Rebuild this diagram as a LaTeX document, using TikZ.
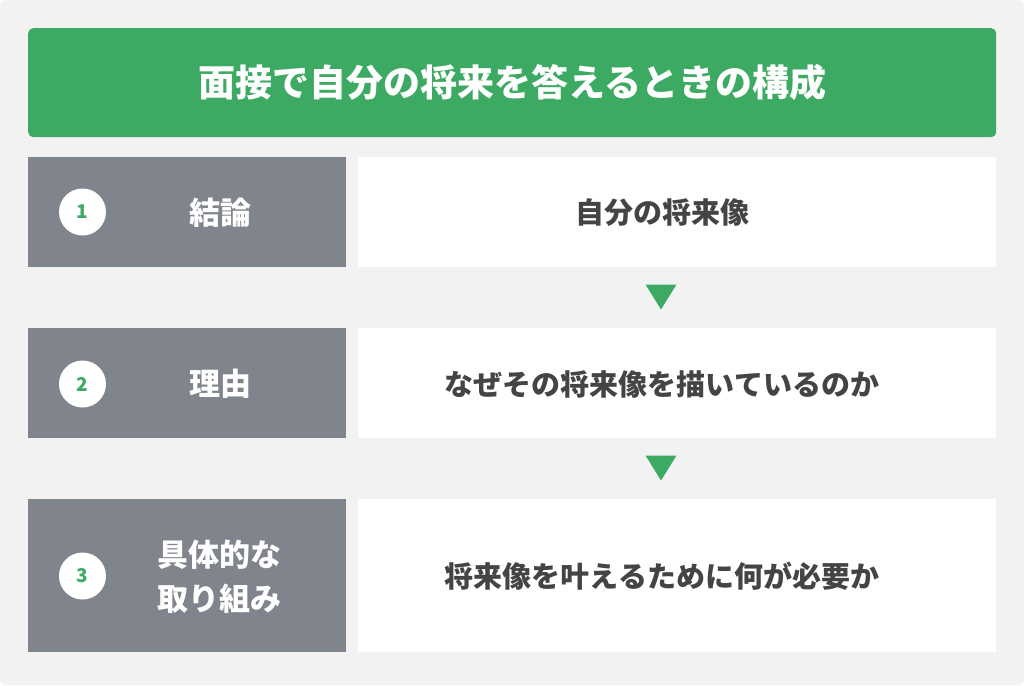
\documentclass[tikz,border=0pt]{standalone}
\usepackage{fontspec}
\newfontfamily\jp{Noto Sans CJK JP}
\definecolor{bgc}{HTML}{F2F2F2}
\definecolor{grn}{HTML}{3DAA64}
\definecolor{gry}{HTML}{80848C}
\definecolor{txt}{HTML}{444444}
\begin{document}
\begin{tikzpicture}[x=1pt,y=-1pt,
  lbox/.style={fill=gry,draw=none,minimum width=318pt,inner sep=0pt,anchor=north west},
  wbox/.style={fill=white,draw=none,minimum width=638pt,inner sep=0pt,anchor=north west},
  num/.style={circle,fill=white,minimum size=47pt,inner sep=0pt,text=grn,font=\jp\bfseries\fontsize{19}{19}\selectfont},
  ltext/.style={text=white,font=\jp\bfseries\fontsize{31}{44}\selectfont,align=center},
  wtext/.style={text=txt,font=\jp\bfseries\fontsize{29}{30}\selectfont},
  arr/.style={fill=grn,draw=none}]
\useasboundingbox (0,0) rectangle (1024,685);
\fill[white] (0,0) rectangle (1024,685);
\fill[bgc,rounded corners=6pt] (0,0) rectangle (1024,685);
\node[fill=grn,rounded corners=5pt,minimum width=968pt,minimum height=109pt,inner sep=0pt,anchor=north west,text=white,font=\jp\bfseries\fontsize{37}{37}\selectfont] (title) at (28,28) {面接で自分の将来を答えるときの構成};
% row 1
\node[lbox,minimum height=110pt] (l1) at (28,157) {};
\node[wbox,minimum height=110pt] (w1) at (358,157) {};
\node[num] (n1) at (82.5,212) {1};
\node[ltext] (t1) at (220,213) {結論};
\node[wtext] (d1) at (662,213) {自分の将来像};
% row 2
\node[lbox,minimum height=110pt] (l2) at (28,328) {};
\node[wbox,minimum height=110pt] (w2) at (358,328) {};
\node[num] (n2) at (82.5,384) {2};
\node[ltext] (t2) at (220,384) {理由};
\node[wtext] (d2) at (662,384) {なぜその将来像を描いているのか};
% row 3
\node[lbox,minimum height=153pt] (l3) at (28,499) {};
\node[wbox,minimum height=153pt] (w3) at (358,499) {};
\node[num] (n3) at (82.5,576) {3};
\node[ltext] (t3) at (219,577) {具体的な\\取り組み};
\node[wtext] (d3) at (662,576) {将来像を叶えるために何が必要か};
% arrows
\coordinate (a1) at (661,297);
\coordinate (a2) at (661,468);
\fill[arr] ([shift={(-15.5,-12.5)}]a1) -- ([shift={(15.5,-12.5)}]a1) -- ([shift={(0,12.5)}]a1) -- cycle;
\fill[arr] ([shift={(-15.5,-12.5)}]a2) -- ([shift={(15.5,-12.5)}]a2) -- ([shift={(0,12.5)}]a2) -- cycle;
\end{tikzpicture}
\end{document}
